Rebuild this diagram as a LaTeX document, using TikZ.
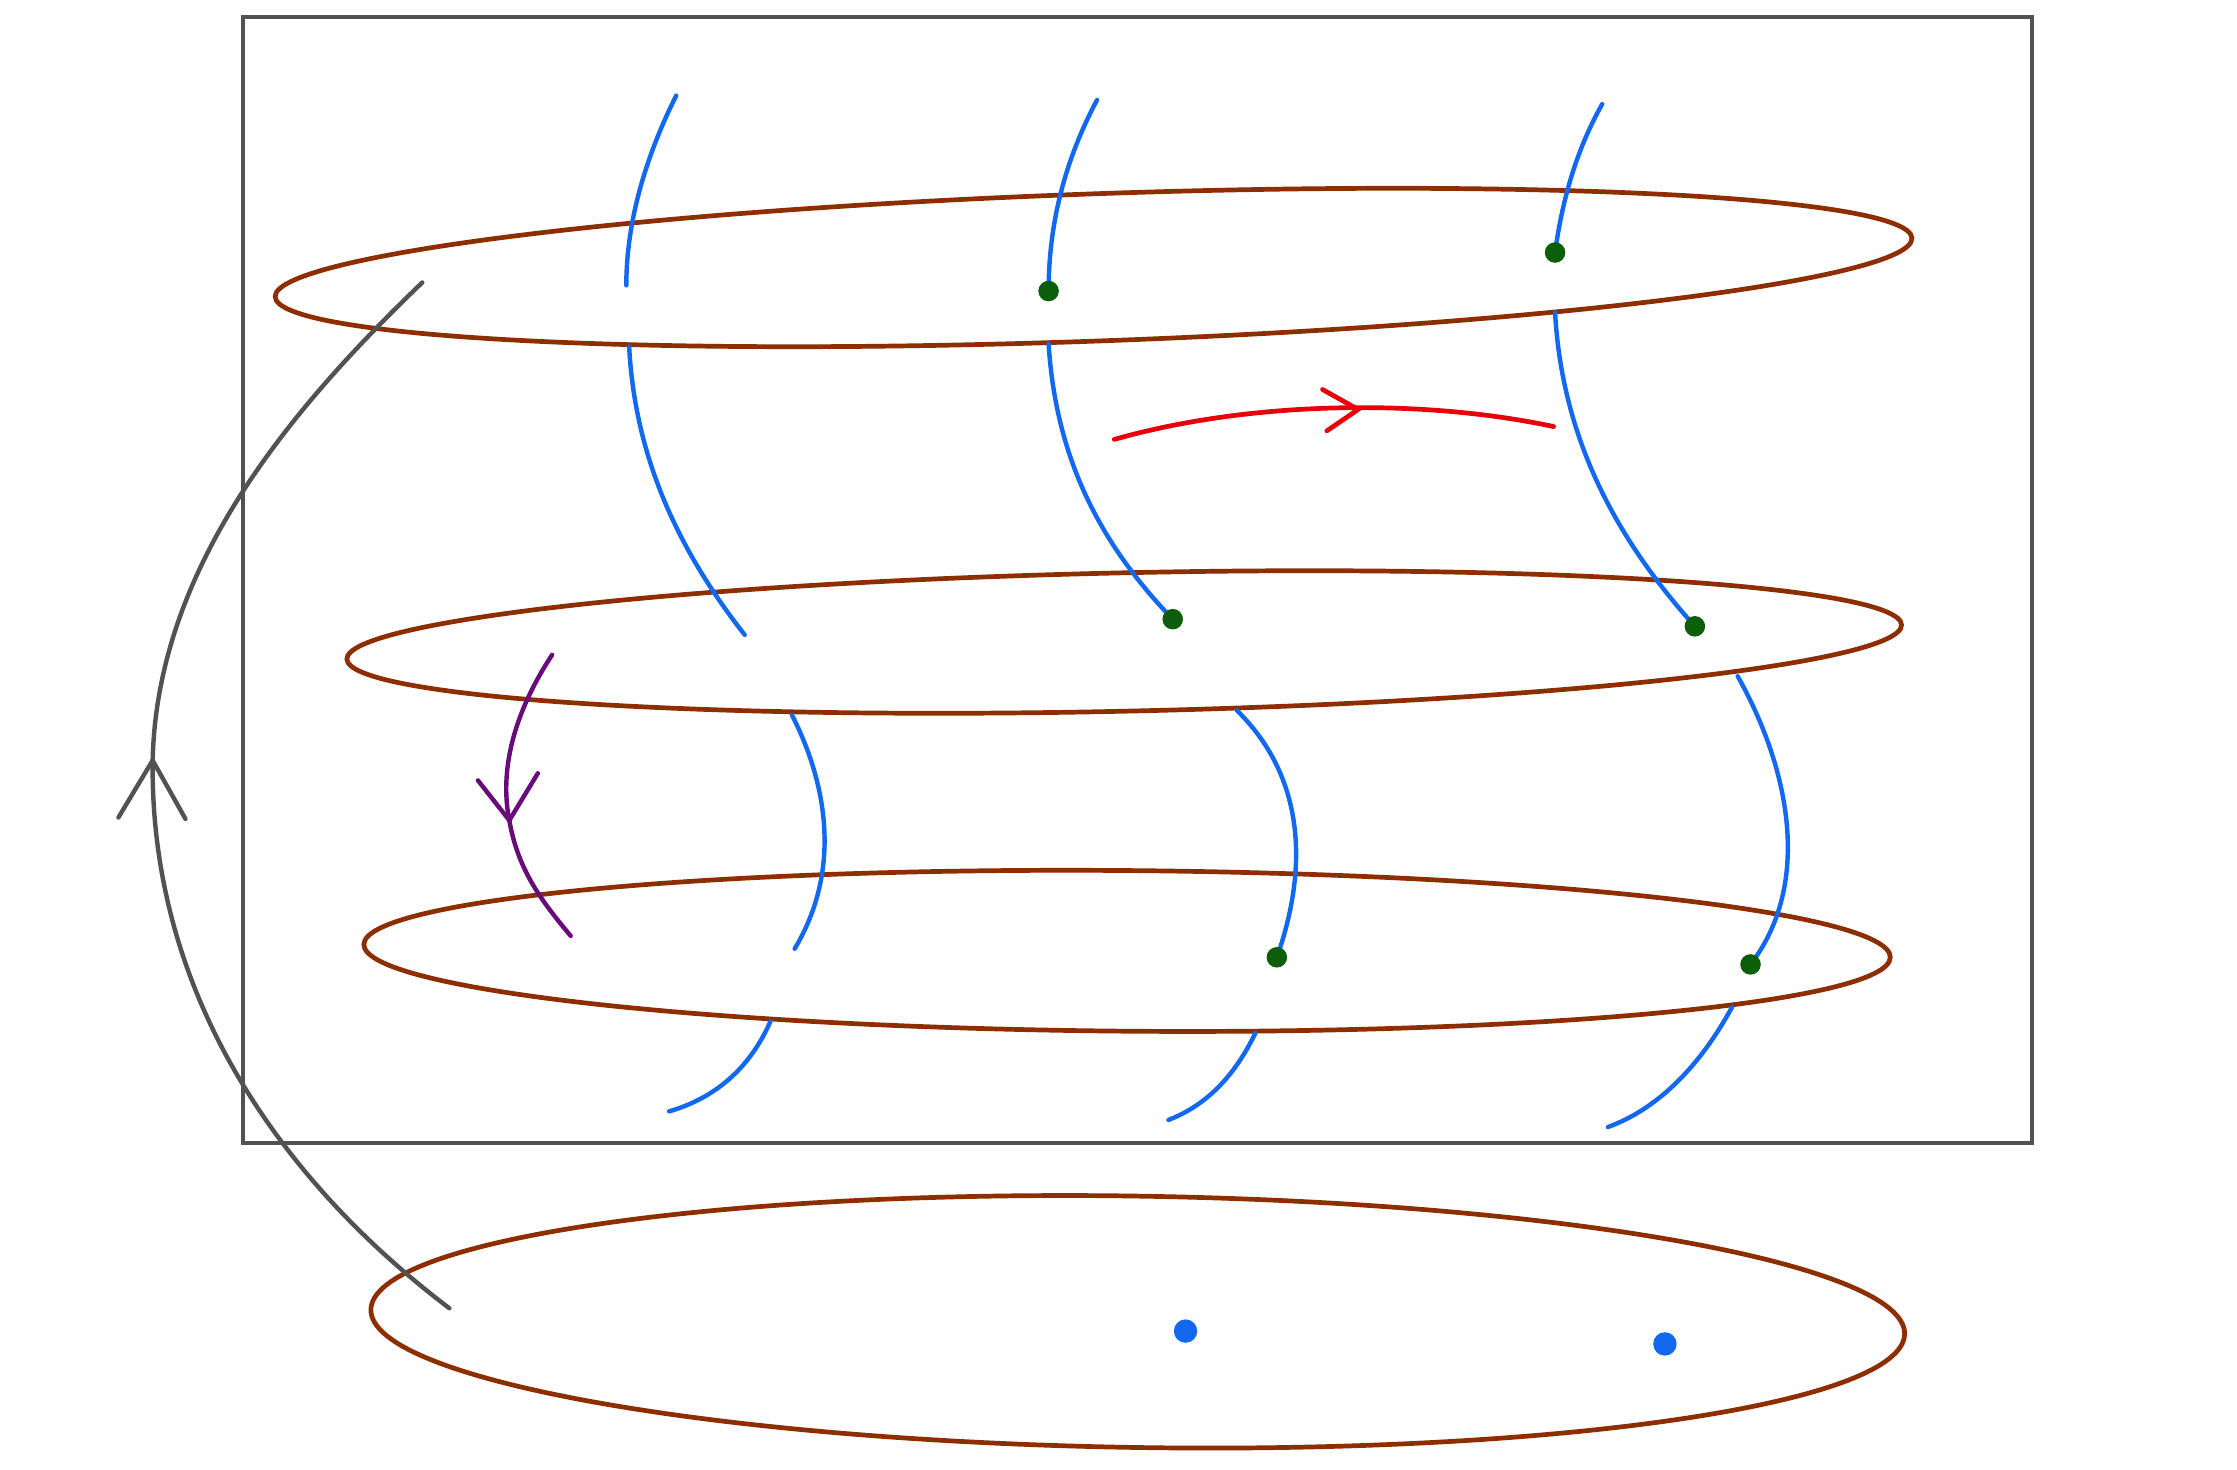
\documentclass[tikz,border=0pt]{standalone}
\definecolor{ebrown}{RGB}{140,46,0}
\definecolor{sblue}{RGB}{18,104,238}
\definecolor{dgreen}{RGB}{12,94,10}
\definecolor{ared}{RGB}{232,0,10}
\definecolor{apurple}{RGB}{104,12,122}
\definecolor{fgray}{RGB}{82,82,82}
\tikzset{
  ring/.style={draw=ebrown, line width=3.3pt},
  strand/.style={draw=sblue, line width=3.1pt, line cap=round},
  gdot/.style={fill=dgreen},
  bdot/.style={fill=sblue},
  frame/.style={draw=fgray, line width=2.8pt},
  flow/.style={draw=fgray, line width=3.1pt, line cap=round},
  redarc/.style={draw=ared, line width=3.3pt, line cap=round},
  purparc/.style={draw=apurple, line width=3.1pt, line cap=round}
}
\begin{document}
\begin{tikzpicture}[x=1pt,y=-1pt]
\useasboundingbox (0,0) rectangle (1568,1030);
\fill[white] (0,0) rectangle (1568,1030);
% frame
\draw[frame] (170,12) rectangle (1424,801);
% ellipses
\draw[ring, rotate around={2.05:(766.5,187.5)}] (766.5,187.5) ellipse (574 and 51.6);
\draw[ring, rotate around={1.26:(788,450)}] (788,450) ellipse (545 and 48.5);
\draw[ring, rotate around={-0.48:(790,666.5)}] (790,666.5) ellipse (535 and 56.3);
\draw[ring, rotate around={-0.91:(797.5,926.5)}] (797.5,926.5) ellipse (537.6 and 88.1);
% dot positions
\coordinate (g1) at (735,204);
\coordinate (g2) at (1090,177);
\coordinate (g3) at (822,434);
\coordinate (g4) at (1188,439);
\coordinate (g5) at (895,671);
\coordinate (g6) at (1227,676);
\coordinate (b1) at (831,933);
\coordinate (b2) at (1167,942);
% blue strands, column 1
\draw[strand] (474,67) .. controls (450,115) and (439,160) .. (439,200);
\draw[strand] (441,243) .. controls (445,320) and (475,385) .. (522,445);
\draw[strand] (555,501) .. controls (580,550) and (590,610) .. (557,665);
\draw[strand] (540,716) .. controls (525,750) and (500,770) .. (469,779);
% column 2
\draw[strand] (769,70) .. controls (745,115) and (735,160) .. (g1);
\draw[strand] (735,241) .. controls (740,320) and (770,380) .. (g3);
\draw[strand] (867,498) .. controls (910,540) and (920,600) .. (g5);
\draw[strand] (880,724) .. controls (865,755) and (845,775) .. (819,785);
% column 3
\draw[strand] (1123,73) .. controls (1105,105) and (1095,140) .. (g2);
\draw[strand] (1090,219) .. controls (1095,310) and (1135,380) .. (g4);
\draw[strand] (1218,474) .. controls (1255,540) and (1270,620) .. (g6);
\draw[strand] (1214,706) .. controls (1190,750) and (1160,778) .. (1127,790);
% dots
\foreach \p in {g1,g2,g3,g4,g5,g6} \fill[gdot] (\p) circle (7.2);
\fill[bdot] (b1) circle (8.2);
\fill[bdot] (b2) circle (8.2);
% red arc with arrow
\coordinate (rtip) at (952,287);
\draw[redarc] (781,308) .. controls (880,280) and (1000,280) .. (1089,299);
\draw[redarc] (927,273) -- (rtip) -- (930,302);
% purple arc with arrow
\coordinate (ptip) at (357,575);
\draw[purparc] (387,459) .. controls (360,500) and (350,540) .. (ptip) .. controls (363,610) and (380,632) .. (400,656);
\draw[purparc] (335,547) -- (ptip) -- (377,542);
% gray return curve with arrow
\coordinate (gtip) at (107,533);
\draw[flow] (296,198) .. controls (200,290) and (110,400) .. (gtip) .. controls (105,700) and (200,830) .. (315,917);
\draw[flow] (83,573) -- (gtip) -- (130,574);
\end{tikzpicture}
\end{document}
